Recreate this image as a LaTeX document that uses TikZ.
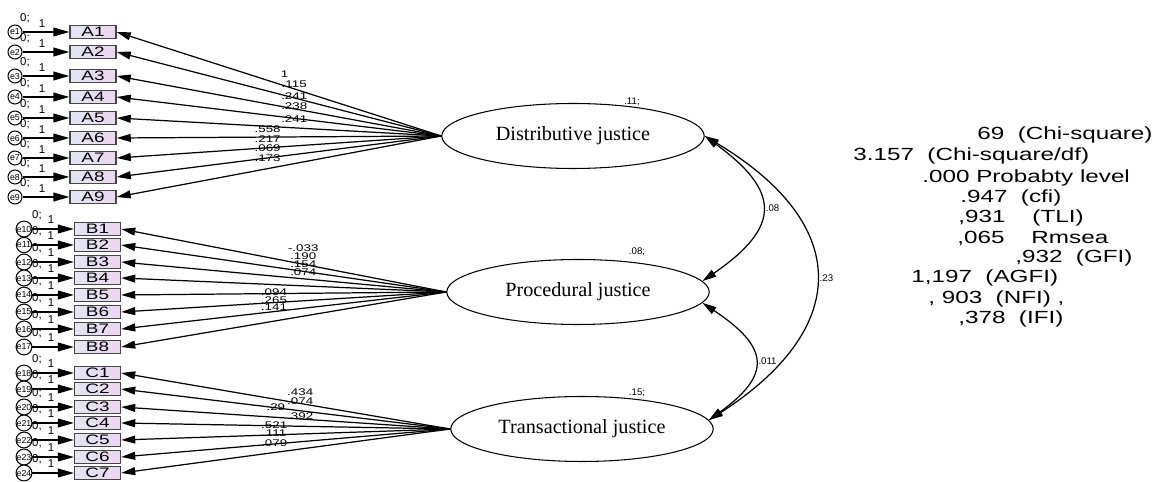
\documentclass[tikz,border=0pt]{standalone}
\usepackage{fontspec}
\setmainfont{Liberation Serif}
\setsansfont{Liberation Sans}
\usepackage{tikz}
\usetikzlibrary{shapes.geometric,arrows.meta,positioning}

\definecolor{boxl}{RGB}{226,230,243}
\definecolor{boxr}{RGB}{236,214,240}
\definecolor{boxline}{RGB}{70,70,70}
\newcommand{\wide}[1]{\scalebox{1.38}[1]{#1}}

\begin{document}
\begin{tikzpicture}[
    x=0.02cm, y=-0.02cm,
    ind/.style={draw=boxline, line width=0.8pt, left color=boxl, right color=boxr, minimum width=0.92cm, minimum height=0.27cm, inner sep=0, font=\sffamily\fontsize{7.8}{8}\selectfont},
    err/.style={circle, draw, fill=white, line width=0.6pt, minimum size=0.28cm, inner sep=0, font=\sffamily\fontsize{5}{5}\selectfont},
    lv/.style={ellipse, draw, line width=0.6pt, minimum width=5.25cm, minimum height=1.3cm, inner sep=0, font=\fontsize{11.5}{13}\selectfont},
    lbl/.style={inner sep=0, font=\sffamily\fontsize{5.5}{6}\selectfont},
    one/.style={inner sep=0, font=\sffamily\fontsize{6.5}{7}\selectfont},
    stat/.style={inner sep=0, anchor=west, font=\sffamily\fontsize{10}{12}\selectfont},
    path/.style={-{Triangle[length=8pt,width=4.5pt]}, line width=0.7pt},
    epath/.style={-{Triangle[length=9pt,width=5pt]}, line width=0.7pt},
    cov/.style={{Triangle[length=8pt,width=4.5pt]}-{Triangle[length=8pt,width=4.5pt]}, line width=0.7pt}
]
    \useasboundingbox (0,0) rectangle (1161,482);

    % Latent variables
    \node[lv] (dist) at (573,136) {Distributive justice};
    \node[lv] (proc) at (578,292) {Procedural justice};
    \node[lv] (trans) at (582,429) {Transactional justice};
    \node[lbl] (vdist) at (632,102) {.11;};
    \node[lbl] (vproc) at (637,252) {.08;};
    \node[lbl] (vtrans) at (637,393) {.15;};

    % Indicators with error terms
    \foreach \n/\y/\e in {A1/32/e1, A2/52/e2, A3/76/e3, A4/97/e4, A5/118/e5, A6/138/e6, A7/158/e7, A8/177/e8, A9/197/e9} {
        \node[ind] (\n) at (93,\y) {\wide{\n}};
        \node[err] (\e) at (15,\y) {\e};
        \node[one] (z\e) at (25,\y-14) {0;};
        \draw[epath] (\e) -- node[one, pos=0.42, above=2pt] (o\e) {1} (\n);
    }
    \foreach \n/\y/\e in {B1/229/e10, B2/245/e11, B3/262/e12, B4/278/e13, B5/295/e14, B6/312/e15, B7/329/e16, B8/347/e17, C1/373/e18, C2/389/e19, C3/407/e20, C4/423/e21, C5/440/e22, C6/457/e23, C7/473/e24} {
        \node[ind] (\n) at (97.5,\y) {\wide{\n}};
        \node[err] (\e) at (24,\y) {\e};
        \node[one] (z\e) at (37,\y-14) {0;};
        \draw[epath] (\e) -- node[one, pos=0.45, above=2.5pt] (o\e) {1} (\n);
    }

    % Loadings
    \foreach \n/\v/\p/\d in {A1/1/.483/4.6pt, A2/.115/.453/5.8pt, A3/.241/.453/5.1pt, A4/.238/.453/4.8pt, A5/.241/.453/2.8pt, A6/.558/.535/2.4pt, A7/.217/.535/2.8pt, A8/.069/.535/3.5pt, A9/.173/.535/3.8pt}
        \draw[path] (dist.west) -- node[lbl, pos=\p, above=\d] (w\n) {\wide{\v}} (\n.east);
    \foreach \n/\v/\p/\d in {B1/-.033/.44/7pt, B2/.190/.44/6.3pt, B3/.154/.44/5.8pt, B4/.074/.44/5.2pt, B5/.094/.53/-1.5pt, B6/.265/.53/-0.7pt, B7/.141/.53/0pt}
        \draw[path] (proc.west) -- node[lbl, pos=\p, above=\d] (w\n) {\wide{\v}} (\n.east);
    \draw[path] (proc.west) -- (B8.east);
    \foreach \n/\v/\p/\d in {C1/.434/.456/4.3pt, C2/.074/.456/3.4pt, C3/.29/.53/3.6pt, C4/.392/.456/3.7pt, C5/.521/.535/3.4pt, C6/.111/.535/4.1pt, C7/.079/.535/3.2pt}
        \draw[path] (trans.west) -- node[lbl, pos=\p, above=\d] (w\n) {\wide{\v}} (\n.east);

    % Covariances
    \draw[cov] (dist.east) .. controls +(75,55) and +(80,-55) .. node[lbl, right=2pt] (cdp) {.08} (proc.5);
    \draw[cov] (dist.east) .. controls +(150,90) and +(140,-90) .. node[lbl, right=2pt] (cdt) {.23} (trans.4);
    \draw[cov] (proc.-5) .. controls +(68,45) and +(62,-45) .. node[lbl, right=2pt] (cpt) {.011} (trans.4);

    % Fit indices
    \node[stat] (chi) at (977,135) {\wide{69~~(Chi-square)}};
    \node[stat] (cmin) at (853,156) {\wide{3.157~~(Chi-square/df)}};
    \node[stat] (prob) at (922,178) {\wide{.000 Probabty level}};
    \node[stat] (cfi) at (960,198) {\wide{.947~~(cfi)}};
    \node[stat] (tli) at (958,218) {\wide{,931~~~~(TLI)}};
    \node[stat] (rmsea) at (957,238) {\wide{,065~~~~Rmsea}};
    \node[stat] (gfi) at (1015,258) {\wide{,932~~(GFI)}};
    \node[stat] (agfi) at (911,278) {\wide{1,197~~(AGFI)}};
    \node[stat] (nfi) at (928,299) {\wide{, 903~~(NFI) ,}};
    \node[stat] (ifi) at (958,319) {\wide{,378~~(IFI)}};
\end{tikzpicture}
\end{document}
